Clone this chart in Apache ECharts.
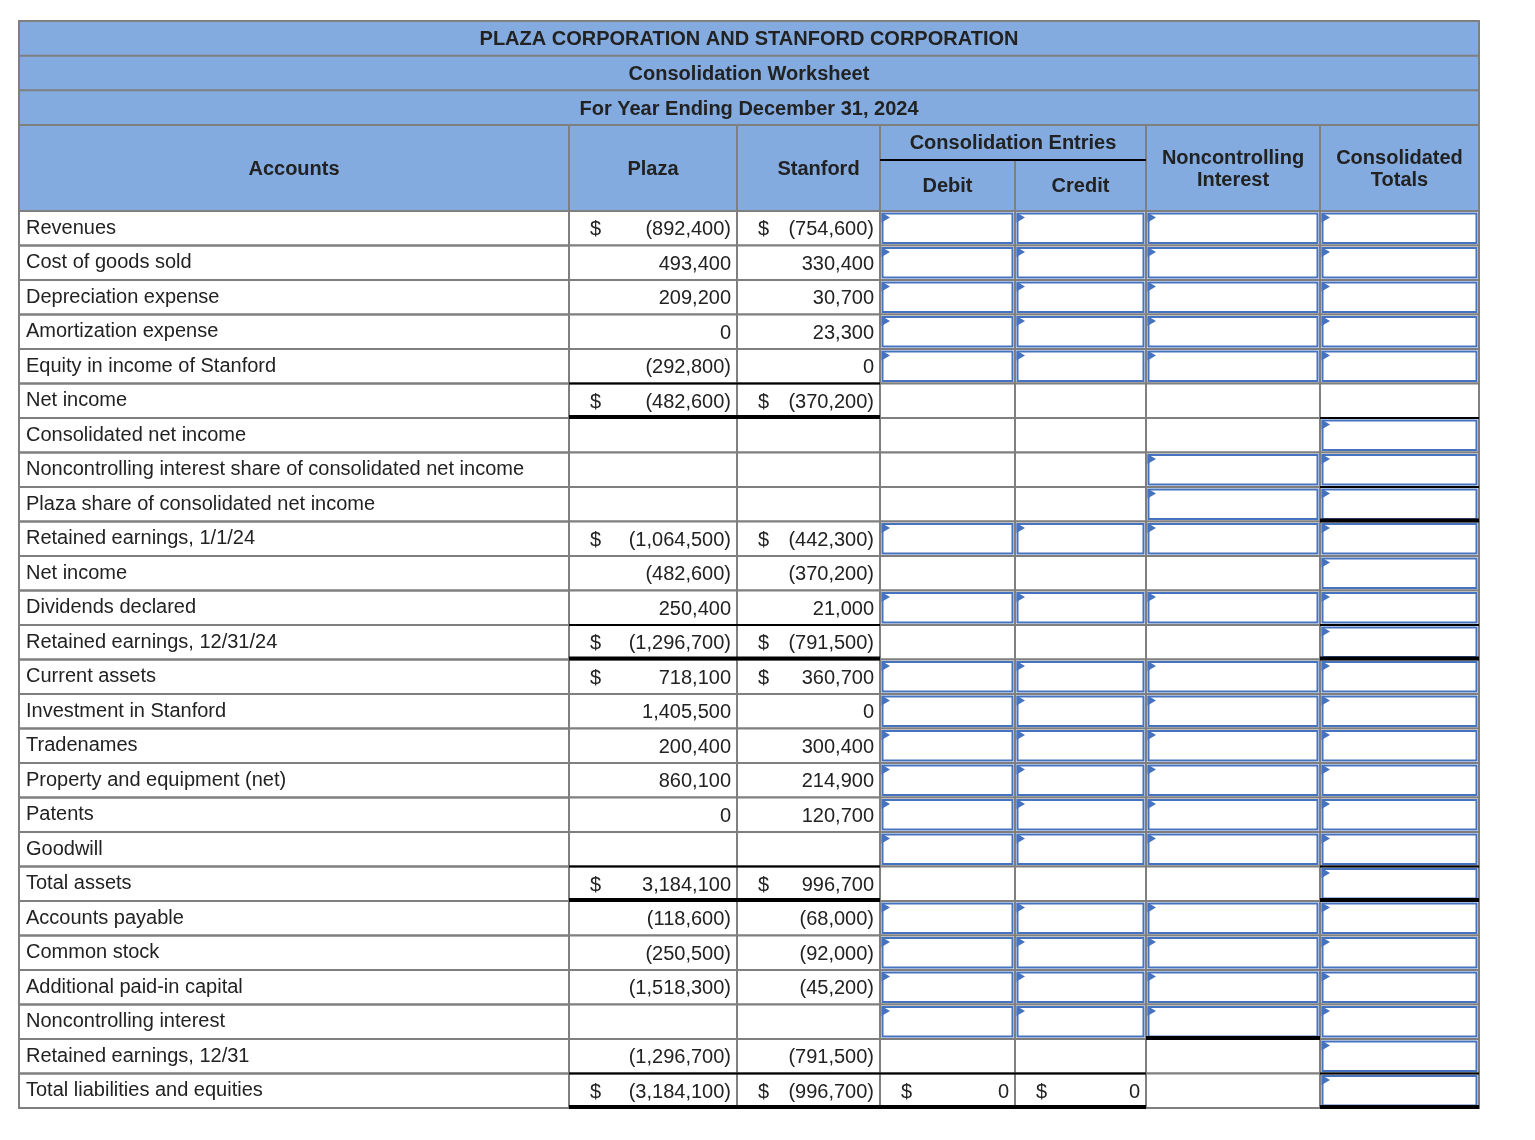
<!DOCTYPE html>
<html>
<head>
<meta charset="utf-8">
<script src="https://cdn.jsdelivr.net/npm/echarts@6/dist/echarts.min.js"></script>
<style>
html,body{margin:0;padding:0;background:#ffffff;}
#chart{width:1535px;height:1140px;}
</style>
</head>
<body>
<div id="chart"></div>
<script>
// ---------------- DATA ----------------
const titleLines = [
  "PLAZA CORPORATION AND STANFORD CORPORATION",
  "Consolidation Worksheet",
  "For Year Ending December 31, 2024"
];
const columnHeaders = ["Accounts", "Plaza", "Stanford", "Debit", "Credit", "Noncontrolling\nInterest", "Consolidated\nTotals"];
const groupHeader = "Consolidation Entries";

const accounts = [
  "Revenues",
  "Cost of goods sold",
  "Depreciation expense",
  "Amortization expense",
  "Equity in income of Stanford",
  "Net income",
  "Consolidated net income",
  "Noncontrolling interest share of consolidated net income",
  "Plaza share of consolidated net income",
  "Retained earnings, 1/1/24",
  "Net income",
  "Dividends declared",
  "Retained earnings, 12/31/24",
  "Current assets",
  "Investment in Stanford",
  "Tradenames",
  "Property and equipment (net)",
  "Patents",
  "Goodwill",
  "Total assets",
  "Accounts payable",
  "Common stock",
  "Additional paid-in capital",
  "Noncontrolling interest",
  "Retained earnings, 12/31",
  "Total liabilities and equities"
];

const plaza = [-892400, 493400, 209200, 0, -292800, -482600, null, null, null,
  -1064500, -482600, 250400, -1296700, 718100, 1405500, 200400, 860100, 0, null,
  3184100, -118600, -250500, -1518300, null, -1296700, -3184100];
const stanford = [-754600, 330400, 30700, 23300, 0, -370200, null, null, null,
  -442300, -370200, 21000, -791500, 360700, 0, 300400, 214900, 120700, null,
  996700, -68000, -92000, -45200, null, -791500, -996700];
const debit = [null, null, null, null, null, null, null, null, null, null, null, null, null,
  null, null, null, null, null, null, null, null, null, null, null, null, 0];
const credit = [null, null, null, null, null, null, null, null, null, null, null, null, null,
  null, null, null, null, null, null, null, null, null, null, null, null, 0];

// rows showing a "$" sign
const dollarRowsCompanies = [0, 5, 9, 12, 13, 19, 25];
const dollarRowsEntries = [25];

// rows with answer-entry boxes per column
const entryInputRows = [0, 1, 2, 3, 4, 9, 11, 13, 14, 15, 16, 17, 18, 20, 21, 22, 23];
const nciInputRows = [0, 1, 2, 3, 4, 7, 8, 9, 11, 13, 14, 15, 16, 17, 18, 20, 21, 22, 23];
const totalInputRows = [0, 1, 2, 3, 4, 6, 7, 8, 9, 10, 11, 12, 13, 14, 15, 16, 17, 18, 19, 20, 21, 22, 23, 24, 25];

// underline rules (row bottoms) per column index
const singleRules = {1: [4, 11, 18, 24], 2: [4, 11, 18, 24], 3: [24], 4: [24], 6: [5, 7, 11, 18, 24]};
const doubleRules = {1: [5, 12, 19, 25], 2: [5, 12, 19, 25], 3: [25], 4: [25], 5: [23], 6: [8, 12, 19, 25]};

// ---------------- LAYOUT ----------------
const tableLeft = 19, tableTop = 21, tableWidth = 1460, headerBottom = 211, tableBottom = 1108;
const colEdges = [0, 550, 718, 861, 996, 1127, 1301, 1460];
const headerShift = [0, 0, 10, 0, 0, 0, 0];
const titleRowH = (125 - tableTop) / 3;
const subHeaderY = 160;
const FONT = '"Liberation Sans", Arial, Helvetica, sans-serif';
const FS = 20;
const GREY = '#7f7f7f';
const BLUE = '#4673bf';
const HEAD_BG = '#83abdf';
const TEXT = '#222222';

function fmt(v) {
  const a = Math.abs(v);
  const s = String(a).replace(/\B(?=(\d{3})+(?!\d))/g, ',');
  return v < 0 ? '(' + s + ')' : s;
}

const columnValues = {1: plaza, 2: stanford, 3: debit, 4: credit};
const inputRowsByCol = {3: entryInputRows, 4: entryInputRows, 5: nciInputRows, 6: totalInputRows};

const cellData = [];
for (let r = 0; r < accounts.length; r++) {
  for (let c = 0; c < 7; c++) cellData.push([c, r]);
}

function renderItem(params, api) {
  const col = api.value(0), row = api.value(1);
  const xL = api.coord([colEdges[col], row])[0];
  const xR = api.coord([colEdges[col + 1], row])[0];
  const yc = api.coord([0, row])[1];
  const h = api.size([0, 1])[1];
  const yT = yc - h / 2, yB = yc + h / 2;
  const children = [];
  children.push({
    type: 'rect', z2: 1,
    shape: {x: xL, y: yT, width: xR - xL, height: h},
    style: {fill: col === 0 ? 'none' : '#ffffff', stroke: GREY, lineWidth: 2}
  });
  const inputs = inputRowsByCol[col];
  if (inputs && inputs.indexOf(row) >= 0) {
    children.push({
      type: 'rect', z2: 3,
      shape: {x: xL + 2.5, y: yT + 2.5, width: xR - xL - 5, height: h - 5},
      style: {fill: 'none', stroke: BLUE, lineWidth: 2}
    });
    children.push({
      type: 'polygon', z2: 4,
      shape: {points: [[xL + 1.5, yT + 1.5], [xL + 10, yT + 6.5], [xL + 1.5, yT + 11.5]]},
      style: {fill: BLUE}
    });
  }
  const vals = columnValues[col];
  if (vals && vals[row] !== null && vals[row] !== undefined) {
    children.push({
      type: 'text', z2: 6,
      style: {text: fmt(vals[row]), x: xR - 6, y: yc + 1.5, align: 'right', verticalAlign: 'middle',
        fontSize: FS, fontFamily: FONT, fill: TEXT}
    });
    const dRows = (col <= 2) ? dollarRowsCompanies : dollarRowsEntries;
    if (dRows.indexOf(row) >= 0) {
      children.push({
        type: 'text', z2: 6,
        style: {text: '$', x: xL + 21, y: yc + 1.5, align: 'left', verticalAlign: 'middle',
          fontSize: FS, fontFamily: FONT, fill: TEXT}
      });
    }
  }
  if (singleRules[col] && singleRules[col].indexOf(row) >= 0) {
    children.push({
      type: 'line', z2: 8,
      shape: {x1: xL, y1: yB, x2: xR, y2: yB},
      style: {stroke: '#000000', lineWidth: 2}
    });
  }
  if (doubleRules[col] && doubleRules[col].indexOf(row) >= 0) {
    children.push({
      type: 'line', z2: 9,
      shape: {x1: xL, y1: yB - 1, x2: xR, y2: yB - 1},
      style: {stroke: '#000000', lineWidth: 4}
    });
  }
  return {type: 'group', children: children};
}

// ---------------- HEADER GRAPHICS ----------------
const gx = x => tableLeft + x;
const graphics = [];
graphics.push({type: 'rect', z: 0, shape: {x: tableLeft, y: tableTop, width: tableWidth, height: headerBottom - tableTop},
  style: {fill: HEAD_BG}});
for (let i = 0; i <= 3; i++) {
  const y = tableTop + i * titleRowH;
  graphics.push({type: 'line', z: 1, shape: {x1: tableLeft - 1, y1: y, x2: tableLeft + tableWidth + 1, y2: y},
    style: {stroke: GREY, lineWidth: 2}});
}
graphics.push({type: 'line', z: 1, shape: {x1: gx(0), y1: tableTop, x2: gx(0), y2: headerBottom}, style: {stroke: GREY, lineWidth: 2}});
graphics.push({type: 'line', z: 1, shape: {x1: gx(tableWidth), y1: tableTop, x2: gx(tableWidth), y2: headerBottom}, style: {stroke: GREY, lineWidth: 2}});
[1, 2, 3, 5, 6].forEach(ci => {
  graphics.push({type: 'line', z: 1, shape: {x1: gx(colEdges[ci]), y1: 125, x2: gx(colEdges[ci]), y2: headerBottom},
    style: {stroke: GREY, lineWidth: 2}});
});
graphics.push({type: 'line', z: 1, shape: {x1: gx(colEdges[4]), y1: subHeaderY, x2: gx(colEdges[4]), y2: headerBottom},
  style: {stroke: GREY, lineWidth: 2}});
graphics.push({type: 'line', z: 2, shape: {x1: gx(colEdges[3]), y1: subHeaderY, x2: gx(colEdges[5]), y2: subHeaderY},
  style: {stroke: '#000000', lineWidth: 2}});
titleLines.forEach((t, i) => {
  graphics.push({type: 'text', z: 3, style: {text: t, x: tableLeft + tableWidth / 2, y: tableTop + (i + 0.5) * titleRowH + 1.5,
    align: 'center', verticalAlign: 'middle', fontSize: FS, fontWeight: 'bold', fontFamily: FONT, fill: TEXT}});
});
const hdrMid = (125 + headerBottom) / 2;
[0, 1, 2, 5, 6].forEach(ci => {
  graphics.push({type: 'text', z: 3, style: {text: columnHeaders[ci], x: gx((colEdges[ci] + colEdges[ci + 1]) / 2 + headerShift[ci]), y: hdrMid + 1,
    align: 'center', verticalAlign: 'middle', lineHeight: 22, fontSize: FS, fontWeight: 'bold', fontFamily: FONT, fill: TEXT}});
});
[3, 4].forEach(ci => {
  graphics.push({type: 'text', z: 3, style: {text: columnHeaders[ci], x: gx((colEdges[ci] + colEdges[ci + 1]) / 2), y: (subHeaderY + headerBottom) / 2 + 1,
    align: 'center', verticalAlign: 'middle', fontSize: FS, fontWeight: 'bold', fontFamily: FONT, fill: TEXT}});
});
graphics.push({type: 'text', z: 3, style: {text: groupHeader, x: gx((colEdges[3] + colEdges[5]) / 2), y: (125 + subHeaderY) / 2 + 0.5,
  align: 'center', verticalAlign: 'middle', fontSize: FS, fontWeight: 'bold', fontFamily: FONT, fill: TEXT}});

// ---------------- CHART ----------------
const chart = echarts.init(document.getElementById('chart'), null, {renderer: 'canvas'});
chart.setOption({
  animation: false,
  backgroundColor: '#ffffff',
  textStyle: {fontFamily: FONT},
  grid: {left: tableLeft, top: headerBottom, width: tableWidth, height: tableBottom - headerBottom, containLabel: false},
  xAxis: {type: 'value', min: 0, max: tableWidth, show: false},
  yAxis: {
    type: 'category', data: accounts, inverse: true, z: 10,
    axisLine: {show: false}, axisTick: {show: false}, splitLine: {show: false},
    axisLabel: {inside: true, interval: 0, margin: 7, fontSize: FS, fontFamily: FONT, color: TEXT, align: 'left',
      padding: [3, 0, 0, 0]}
  },
  graphic: graphics,
  series: [{
    type: 'custom', coordinateSystem: 'cartesian2d', silent: true, clip: false,
    encode: {x: 0, y: 1},
    renderItem: renderItem,
    data: cellData
  }]
});
</script>
</body>
</html>
